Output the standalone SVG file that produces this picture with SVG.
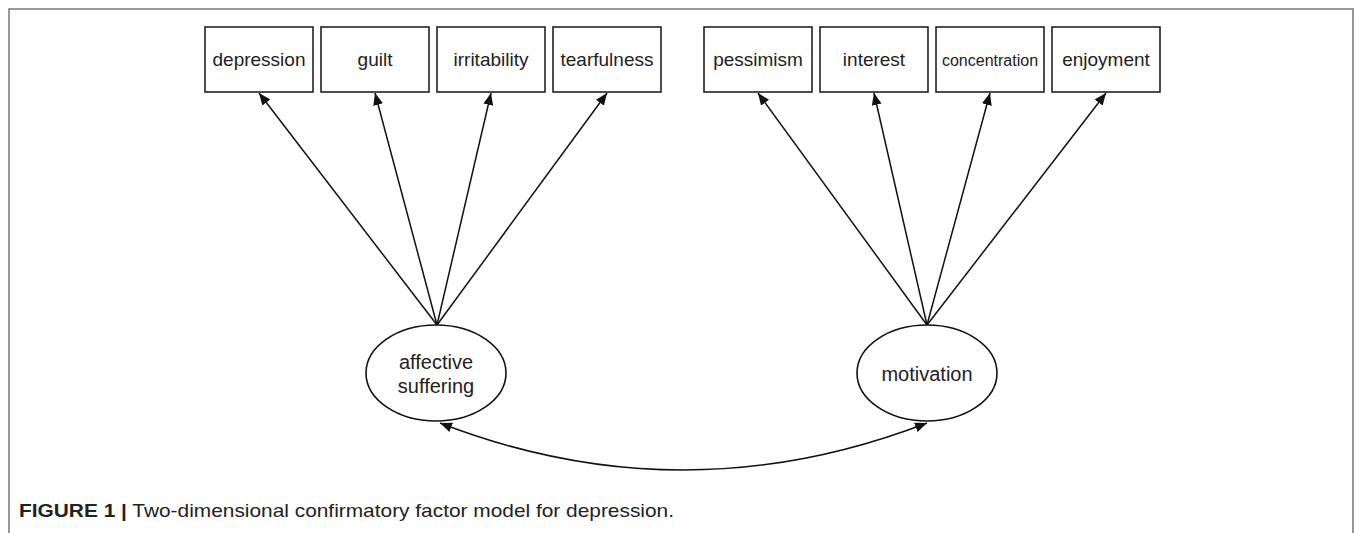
<svg xmlns="http://www.w3.org/2000/svg" width="1355" height="533" viewBox="0 0 1355 533">
<style>
.box{fill:#fff;stroke:#222;stroke-width:1.6}
.ell{fill:#fff;stroke:#111;stroke-width:1.6}
.lbl{font-family:"Liberation Sans",Arial,sans-serif;font-size:19px;fill:#222;text-anchor:middle}
.elbl{font-family:"Liberation Sans",Arial,sans-serif;font-size:20px;fill:#222;text-anchor:middle}
.cap{font-family:"Liberation Sans",Arial,sans-serif;font-size:19px;fill:#222}
.con{fill:none;stroke:#111;stroke-width:1.5}
</style>
<defs>
<marker id="ah" viewBox="0 0 12 10" refX="12" refY="5" markerWidth="12" markerHeight="10" markerUnits="userSpaceOnUse" orient="auto-start-reverse">
<path d="M0,0 L12,5 L0,10 z" fill="#111"/>
</marker>
</defs>
<rect width="1355" height="533" fill="#fff"/>
<path d="M9,533 V9 H1353 V533" fill="none" stroke="#777" stroke-width="1.5"/>

<g id="connectors">
<line class="con" x1="437" y1="325" x2="259" y2="93" marker-end="url(#ah)"/>
<line class="con" x1="437" y1="325" x2="375" y2="93" marker-end="url(#ah)"/>
<line class="con" x1="437" y1="325" x2="491" y2="93" marker-end="url(#ah)"/>
<line class="con" x1="437" y1="325" x2="607" y2="93" marker-end="url(#ah)"/>
<line class="con" x1="927" y1="325" x2="758" y2="93" marker-end="url(#ah)"/>
<line class="con" x1="927" y1="325" x2="874" y2="93" marker-end="url(#ah)"/>
<line class="con" x1="927" y1="325" x2="990" y2="93" marker-end="url(#ah)"/>
<line class="con" x1="927" y1="325" x2="1106" y2="93" marker-end="url(#ah)"/>
<path class="con" d="M440,423 Q683,517 927,423" marker-start="url(#ah)" marker-end="url(#ah)"/>
</g>

<g id="depression"><rect class="box" x="205" y="27" width="108" height="65"/><text class="lbl" x="259" y="66">depression</text></g>
<g id="guilt"><rect class="box" x="321" y="27" width="108" height="65"/><text class="lbl" x="375" y="66">guilt</text></g>
<g id="irritability"><rect class="box" x="437" y="27" width="108" height="65"/><text class="lbl" x="491" y="66">irritability</text></g>
<g id="tearfulness"><rect class="box" x="553" y="27" width="108" height="65"/><text class="lbl" x="607" y="66">tearfulness</text></g>
<g id="pessimism"><rect class="box" x="704" y="27" width="108" height="65"/><text class="lbl" x="758" y="66">pessimism</text></g>
<g id="interest"><rect class="box" x="820" y="27" width="108" height="65"/><text class="lbl" x="874" y="66">interest</text></g>
<g id="concentration"><rect class="box" x="936" y="27" width="108" height="65"/><text class="lbl" x="990" y="66" style="font-size:16px">concentration</text></g>
<g id="enjoyment"><rect class="box" x="1052" y="27" width="108" height="65"/><text class="lbl" x="1106" y="66">enjoyment</text></g>

<g id="affective-suffering"><ellipse class="ell" cx="436" cy="373" rx="70" ry="48"/><text class="elbl" x="436" y="369">affective</text><text class="elbl" x="436" y="393">suffering</text></g>
<g id="motivation"><ellipse class="ell" cx="927" cy="373" rx="70" ry="48"/><text class="elbl" x="927" y="381">motivation</text></g>

<text class="cap" x="19" y="517" textLength="655" lengthAdjust="spacingAndGlyphs"><tspan font-weight="bold">FIGURE 1 |</tspan> Two-dimensional confirmatory factor model for depression.</text>
</svg>
